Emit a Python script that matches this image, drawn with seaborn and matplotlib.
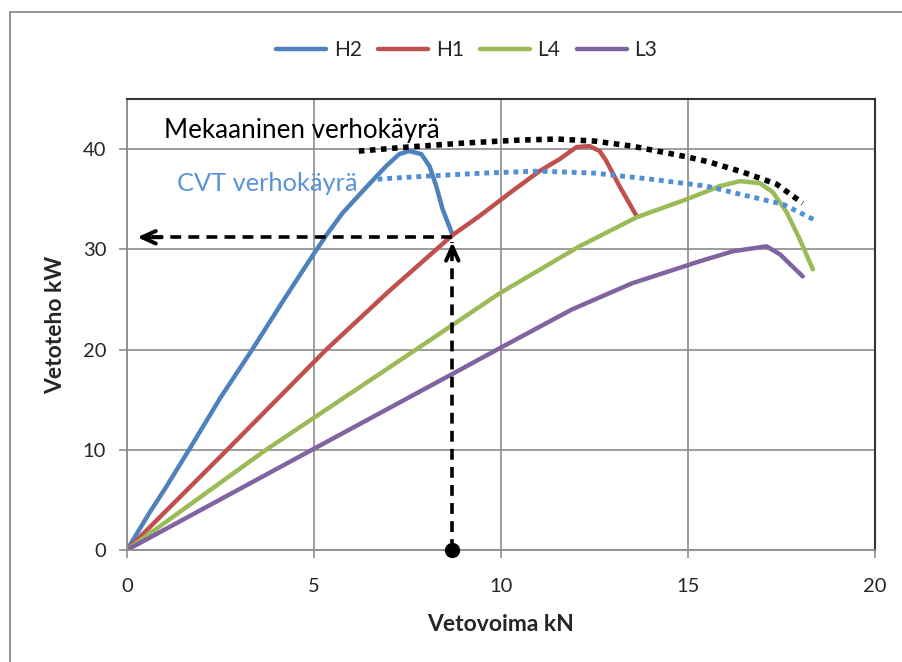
import matplotlib
matplotlib.use("Agg")
import matplotlib.pyplot as plt
from matplotlib.lines import Line2D
import numpy as np
import pandas as pd
import seaborn as sns

# curves (kN, kW)
h2_x = [0, 0.6, 1.05, 1.66, 2.5, 3.35, 4.2, 4.95, 5.33, 5.76, 6.4, 6.93, 7.28, 7.55, 7.87, 8.09, 8.27, 8.44, 8.7]
h2_y = [0, 3.7, 6.3, 10, 15.2, 20, 25, 29.3, 31.4, 33.6, 36.2, 38.3, 39.5, 39.8, 39.5, 38.3, 36.3, 34.0, 31.5]
h1_x = [0, 2.68, 5.33, 7.0, 8.7, 9.42, 10.3, 11.03, 11.57, 12.02, 12.37, 12.64, 12.82, 13.17, 13.63]
h1_y = [0, 10, 20, 25.8, 31.4, 33.3, 35.8, 37.8, 39.0, 40.2, 40.3, 39.8, 38.8, 36.3, 33.3]
l4_x = [0, 3.72, 7.73, 9.96, 12.1, 13.63, 14.97, 15.31, 15.85, 16.39, 16.92, 17.27, 17.64, 17.99, 18.34]
l4_y = [0, 10, 20, 25.6, 30.3, 33.2, 35.0, 35.5, 36.3, 36.8, 36.6, 35.7, 33.7, 31.0, 28.0]
l3_x = [0, 4.95, 8.67, 10.0, 11.9, 13.5, 15.31, 16.2, 17.1, 17.46, 18.07]
l3_y = [0, 10, 17.5, 20.2, 24.0, 26.6, 28.8, 29.8, 30.3, 29.5, 27.3]

mek_x = [6.2, 7.5, 9.0, 10.5, 11.5, 12.5, 13.5, 15.0, 15.58, 16.47, 17.37, 18.07]
mek_y = [39.8, 40.2, 40.6, 40.9, 41.0, 40.8, 40.3, 39.2, 38.7, 37.7, 36.5, 34.6]
cvt_x = [6.7, 8.0, 9.5, 11.0, 12.5, 14.0, 15.5, 16.39, 17.54, 18.4]
cvt_y = [37.0, 37.3, 37.6, 37.8, 37.6, 37.0, 36.3, 35.5, 34.5, 32.9]

# operating point marked with arrows
op_x = 8.7
op_y = 31.2
arrow_end_x = 0.2

series = ["H2", "H1", "L4", "L3"]
colors = ["#4F81BD", "#C0504D", "#9BBB59", "#8064A2"]

frames = []
for name, xs, ys in zip(series, [h2_x, h1_x, l4_x, l3_x], [h2_y, h1_y, l4_y, l3_y]):
    frames.append(pd.DataFrame({"x": xs, "y": ys, "sarja": name}))
df = pd.concat(frames, ignore_index=True)

sns.set_style("white")
plt.rcParams["font.family"] = ["Lato", "DejaVu Sans"]

fig = plt.figure(figsize=(9.03, 6.62), dpi=100)
ax = fig.add_axes([0.1406, 0.1692, 0.8283, 0.6813])

ax.grid(True, color="#8c8c8c", lw=1.2)
ax.set_axisbelow(True)

sns.lineplot(data=df, x="x", y="y", hue="sarja", hue_order=series,
             palette=colors, estimator=None, sort=False, lw=3.2, ax=ax,
             solid_joinstyle="round", solid_capstyle="round")

ax.plot(mek_x, mek_y, color="black", lw=4, ls=(0, (1, 1)), dash_capstyle="butt")
ax.plot(cvt_x, cvt_y, color="#4F8FD8", lw=3.5, ls=(0, (1, 1)), dash_capstyle="butt")

# dashed arrows
ax.plot([op_x, op_x], [0, op_y - 0.5], color="black", lw=2.6, ls=(0, (3, 2)))
ax.plot([op_x, arrow_end_x + 0.4], [op_y, op_y], color="black", lw=2.6, ls=(0, (3, 2)))
ax.annotate("", xy=(op_x, op_y - 0.2), xytext=(op_x, op_y - 2.0),
            arrowprops=dict(arrowstyle="->,head_length=1.0,head_width=0.45", lw=2.8, color="black"))
ax.annotate("", xy=(arrow_end_x, op_y), xytext=(arrow_end_x + 0.8, op_y),
            arrowprops=dict(arrowstyle="->,head_length=1.0,head_width=0.45", lw=2.8, color="black"))
ax.plot([op_x], [0], "o", color="black", ms=10, clip_on=False, zorder=5)

ax.text(1.0, 41.9, "Mekaaninen verhokäyrä", fontsize=18.7, color="black", va="center", ha="left")
ax.text(1.34, 36.6, "CVT verhokäyrä", fontsize=18.3, color="#5B93D8", va="center", ha="left")

ax.set_xlim(0, 20)
ax.set_ylim(0, 45)
ax.set_xticks([0, 5, 10, 15, 20])
ax.set_yticks([0, 10, 20, 30, 40])
ax.tick_params(axis="both", direction="out", length=6, width=1.2, color="#8c8c8c",
               labelsize=14.5, bottom=True, left=True)
ax.tick_params(axis="x", pad=14)
ax.tick_params(axis="y", pad=9)

ax.set_xlabel("Vetovoima kN", fontsize=16.5, fontweight="bold", labelpad=14)
ax.set_ylabel("Vetoteho kW", fontsize=16.5, fontweight="bold", labelpad=12)

for side in ["left", "bottom"]:
    ax.spines[side].set_color("#8c8c8c")
    ax.spines[side].set_linewidth(1.3)
for side in ["top", "right"]:
    ax.spines[side].set_color("#333333")
    ax.spines[side].set_linewidth(1.5)

handles, labels = ax.get_legend_handles_labels()
ax.legend(handles, labels, loc="center", bbox_to_anchor=(0.517, 0.924),
          bbox_transform=fig.transFigure, ncol=4, frameon=False, fontsize=15,
          handlelength=2.4, handletextpad=0.35, columnspacing=0.8)

# outer chart border (right/bottom edges cut off in the screenshot)
fig.add_artist(Line2D([10 / 903, 10 / 903], [0, 1 - 12 / 662], transform=fig.transFigure,
                      color="#8c8c8c", lw=1.3))
fig.add_artist(Line2D([10 / 903, 1], [1 - 12 / 662, 1 - 12 / 662], transform=fig.transFigure,
                      color="#8c8c8c", lw=1.3))

fig.savefig("out.png", dpi=100)
